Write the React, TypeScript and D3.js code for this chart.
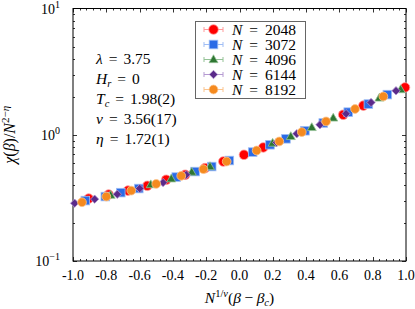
import React, { useRef, useEffect } from "react";
import * as d3 from "d3";

// scaled data, one pair of arrays per system size
const n2048X = [-0.906, -0.786, -0.67, -0.554, -0.44, -0.326, -0.207, -0.097, 0.027, 0.143, 0.623, 0.744, 0.994];
const n2048Y = [0.312, 0.336, 0.361, 0.394, 0.44, 0.482, 0.544, 0.614, 0.694, 0.793, 1.44, 1.7, 2.37];

const n3072X = [-0.926, -0.806, -0.713, -0.605, -0.38, -0.267, -0.167, -0.061, 0.079, 0.183, 0.279, 0.393, 0.503, 0.653, 0.774, 0.888];
const n3072Y = [0.301, 0.324, 0.348, 0.375, 0.462, 0.511, 0.56, 0.625, 0.729, 0.833, 0.929, 1.076, 1.239, 1.51, 1.75, 2.08];

const n4096X = [-0.774, -0.533, -0.41, -0.287, -0.177, 0.199, 0.308, 0.434, 0.563, 0.84, 0.968];
const n4096Y = [0.332, 0.403, 0.448, 0.506, 0.56, 0.859, 0.97, 1.143, 1.358, 1.955, 2.28];

const n6144X = [-0.99, -0.87, -0.734, -0.599, -0.459, -0.32, 0.223, 0.344, 0.483, 0.64, 0.79, 0.94];
const n6144Y = [0.287, 0.309, 0.338, 0.375, 0.418, 0.482, 0.869, 1.018, 1.2, 1.468, 1.8, 2.23];

const n8192X = [-0.946, -0.8, -0.65, -0.5, -0.35, -0.217, -0.077, 0.103, 0.239, 0.374, 0.52, 0.694, 0.864];
const n8192Y = [0.292, 0.324, 0.361, 0.408, 0.473, 0.534, 0.614, 0.75, 0.885, 1.05, 1.275, 1.6, 2.01];

const seriesNames = ["2048", "3072", "4096", "6144", "8192"];
const xTicks = [-1.0, -0.8, -0.6, -0.4, -0.2, 0.0, 0.2, 0.4, 0.6, 0.8, 1.0];
const yTicks = [0.1, 1, 10];
const yTickExp = ["−1", "0", "1"];

const FONT = "Liberation Serif, Times New Roman, serif";

type Part = { t: string; i?: boolean; dx?: number; dy?: number; fs?: number };

const addParts = (text: any, parts: Part[]) => {
  parts.forEach((p) => {
    const ts = text.append("tspan").text(p.t);
    if (p.i) ts.attr("font-style", "italic");
    if (p.dx) ts.attr("dx", p.dx);
    if (p.dy) ts.attr("dy", p.dy);
    if (p.fs) ts.attr("font-size", p.fs);
  });
};

const Chart = () => {
  const svgRef = useRef<SVGSVGElement>(null);

  useEffect(() => {
    const svg = d3.select(svgRef.current);
    svg.selectAll("*").remove();

    const width = 415;
    const height = 309;
    const margin = { top: 8.5, right: 9, bottom: 48, left: 73 };
    const x0 = margin.left;
    const x1 = width - margin.right;
    const y0 = margin.top;
    const y1 = height - margin.bottom;

    const x = d3.scaleLinear().domain([-1, 1]).range([x0, x1]);
    const y = d3.scaleLog().domain([0.1, 10]).range([y1, y0]);

    const series = [
      { name: seriesNames[0], xs: n2048X, ys: n2048Y, color: "#ff0000", light: "#ff9a9a", sym: "circle", size: 4.8 },
      { name: seriesNames[1], xs: n3072X, ys: n3072Y, color: "#2b6be6", light: "#9fbdf5", sym: "square", size: 8.6 },
      { name: seriesNames[2], xs: n4096X, ys: n4096Y, color: "#2e7632", light: "#94c296", sym: "triangle", size: 9 },
      { name: seriesNames[3], xs: n6144X, ys: n6144Y, color: "#5a2a8a", light: "#b59ad2", sym: "diamond", size: 8.4 },
      { name: seriesNames[4], xs: n8192X, ys: n8192Y, color: "#f58a1f", light: "#fbc48e", sym: "circle", size: 4.4 },
    ];

    const drawMarker = (g: any, s: any, cx: number, cy: number) => {
      if (s.sym === "circle") {
        g.append("circle").attr("cx", cx).attr("cy", cy).attr("r", s.size)
          .attr("fill", s.color).attr("stroke", s.light).attr("stroke-width", 0.8);
      } else if (s.sym === "square") {
        g.append("rect").attr("x", cx - s.size / 2).attr("y", cy - s.size / 2)
          .attr("width", s.size).attr("height", s.size)
          .attr("fill", s.color).attr("stroke", s.light).attr("stroke-width", 0.8);
      } else if (s.sym === "triangle") {
        const h = s.size * 0.87;
        g.append("path")
          .attr("d", `M${cx},${cy - h * 0.6}L${cx + s.size / 2},${cy + h * 0.4}L${cx - s.size / 2},${cy + h * 0.4}Z`)
          .attr("fill", s.color).attr("stroke", s.light).attr("stroke-width", 0.8);
      } else {
        const r = s.size / 2;
        g.append("path")
          .attr("d", `M${cx},${cy - r}L${cx + r},${cy}L${cx},${cy + r}L${cx - r},${cy}Z`)
          .attr("fill", s.color).attr("stroke", s.light).attr("stroke-width", 0.8);
      }
    };

    // frame
    svg.append("rect")
      .attr("x", x0).attr("y", y0)
      .attr("width", x1 - x0).attr("height", y1 - y0)
      .attr("fill", "none").attr("stroke", "#000").attr("stroke-width", 1);

    const ticks = svg.append("g").attr("stroke", "#000").attr("stroke-width", 0.8);

    // x ticks: major every 0.2, minor every 0.04, on bottom and top
    d3.range(-1, 1.0001, 0.04).forEach((v) => {
      const isMajor = Math.abs(v * 5 - Math.round(v * 5)) < 1e-6;
      const len = isMajor ? 4 : 2;
      const px = Math.round(x(v)) + 0.5;
      ticks.append("line").attr("x1", px).attr("x2", px).attr("y1", y1).attr("y2", y1 - len);
      ticks.append("line").attr("x1", px).attr("x2", px).attr("y1", y0).attr("y2", y0 + len);
    });

    // y ticks: decades + minor 2..9
    [0.1, 1].forEach((dec) => {
      d3.range(1, 10).forEach((m) => {
        const v = dec * m;
        const len = m === 1 ? 4 : 2;
        const py = Math.round(y(v)) + 0.5;
        ticks.append("line").attr("x1", x0).attr("x2", x0 + len).attr("y1", py).attr("y2", py);
        ticks.append("line").attr("x1", x1).attr("x2", x1 - len).attr("y1", py).attr("y2", py);
      });
    });

    // tick labels
    svg.append("g")
      .selectAll("text")
      .data(xTicks)
      .join("text")
      .attr("x", (d) => x(d))
      .attr("y", y1 + 19)
      .attr("text-anchor", "middle")
      .attr("font-family", FONT)
      .attr("font-size", 14)
      .text((d) => d.toFixed(1));

    yTicks.forEach((v, i) => {
      const t = svg.append("text")
        .attr("x", x0 - 13)
        .attr("y", y(v) + 5)
        .attr("text-anchor", "end")
        .attr("font-family", FONT)
        .attr("font-size", 14);
      addParts(t, [{ t: "10" }, { t: yTickExp[i], dy: -6, fs: 10 }]);
    });

    // axis labels
    const xl = svg.append("text")
      .attr("x", (x0 + x1) / 2)
      .attr("y", 303)
      .attr("text-anchor", "middle")
      .attr("font-family", FONT)
      .attr("font-size", 15.5);
    addParts(xl, [
      { t: "N", i: true },
      { t: "1/", dy: -6, fs: 10.5 },
      { t: "ν", i: true, fs: 10.5 },
      { t: "(", dy: 6 },
      { t: "β", i: true },
      { t: "−", dx: 3.5 },
      { t: "β", i: true, dx: 3.5 },
      { t: "c", i: true, dy: 3, fs: 10.5 },
      { t: ")", dy: -3 },
    ]);

    const yl = svg.append("text")
      .attr("transform", `translate(15,${(y0 + y1) / 2}) rotate(-90)`)
      .attr("text-anchor", "middle")
      .attr("font-family", FONT)
      .attr("font-size", 16);
    addParts(yl, [
      { t: "χ", i: true },
      { t: "(" },
      { t: "β", i: true },
      { t: ")/" },
      { t: "N", i: true },
      { t: "2−", dy: -6, fs: 11 },
      { t: "η", i: true, fs: 11 },
    ]);

    // parameters
    const sp = 6;
    const params: Part[][] = [
      [{ t: "λ", i: true }, { t: "=", dx: sp }, { t: "3.75", dx: sp }],
      [{ t: "H", i: true }, { t: "r", i: true, dy: 3, fs: 10.5 }, { t: "=", dx: sp, dy: -3 }, { t: "0", dx: sp }],
      [{ t: "T", i: true }, { t: "c", i: true, dy: 3, fs: 10.5 }, { t: "=", dx: sp, dy: -3 }, { t: "1.98(2)", dx: sp }],
      [{ t: "ν", i: true }, { t: "=", dx: sp }, { t: "3.56(17)", dx: sp }],
      [{ t: "η", i: true }, { t: "=", dx: sp }, { t: "1.72(1)", dx: sp }],
    ];
    params.forEach((p, i) => {
      const t = svg.append("text")
        .attr("x", 96)
        .attr("y", 64 + i * 20)
        .attr("font-family", FONT)
        .attr("font-size", 15.5);
      addParts(t, p);
    });

    // data
    const plot = svg.append("g");
    series.forEach((s) => {
      const g = plot.append("g");
      s.xs.forEach((xv, i) => drawMarker(g, s, x(xv), y(s.ys[i])));
    });

    // legend
    const lg = svg.append("g");
    lg.append("rect")
      .attr("x", 195.5).attr("y", 21.5)
      .attr("width", 110).attr("height", 77)
      .attr("fill", "#fff").attr("stroke", "#666").attr("stroke-width", 1);
    series.forEach((s, i) => {
      const cy = 29.5 + i * 15;
      lg.append("line").attr("x1", 204).attr("x2", 223).attr("y1", cy).attr("y2", cy)
        .attr("stroke", s.light).attr("stroke-width", 1);
      [204, 223].forEach((cx) =>
        lg.append("line").attr("x1", cx).attr("x2", cx).attr("y1", cy - 2.5).attr("y2", cy + 2.5)
          .attr("stroke", s.light).attr("stroke-width", 1)
      );
      drawMarker(lg, s, 213.5, cy);
      const t = lg.append("text")
        .attr("x", 232)
        .attr("y", cy + 5)
        .attr("font-family", FONT)
        .attr("font-size", 15.5);
      addParts(t, [{ t: "N", i: true }, { t: "=", dx: 7 }, { t: s.name, dx: 7 }]);
    });
  }, []);

  return (
    <svg
      ref={svgRef}
      width={415}
      height={309}
      style={{ position: "absolute", left: 0, top: 0, background: "#fff" }}
    ></svg>
  );
};

export default function App() {
  return <Chart />;
}
